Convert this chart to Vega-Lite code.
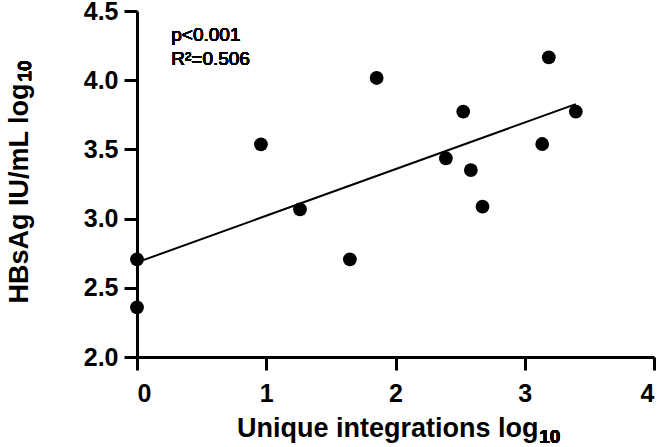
{
  "$schema": "https://vega.github.io/schema/vega-lite/v6.json",
  "autosize": "none",
  "width": 517,
  "height": 346,
  "padding": {"left": 137, "top": 11, "right": 9, "bottom": 90},
  "background": "white",
  "config": {
    "view": {"stroke": null},
    "font": "Liberation Sans",
    "axis": {
      "domainColor": "black",
      "domainWidth": 3,
      "tickColor": "black",
      "tickWidth": 3,
      "tickSize": 13,
      "grid": false,
      "labelFont": "Liberation Sans",
      "labelFontWeight": "bold",
      "labelFontSize": 25,
      "labelColor": "black",
      "titleFont": "Liberation Sans",
      "titleFontWeight": "bold",
      "titleFontSize": 27,
      "titleColor": "black"
    }
  },
  "data": {
    "values": [
      {"integrations": 0, "hbsag": 2.706},
      {"integrations": 0, "hbsag": 2.359},
      {"integrations": 0.959, "hbsag": 3.537},
      {"integrations": 1.261, "hbsag": 3.067},
      {"integrations": 1.647, "hbsag": 2.706},
      {"integrations": 1.854, "hbsag": 4.016},
      {"integrations": 2.524, "hbsag": 3.773},
      {"integrations": 2.390, "hbsag": 3.436},
      {"integrations": 2.583, "hbsag": 3.351},
      {"integrations": 2.673, "hbsag": 3.086},
      {"integrations": 3.135, "hbsag": 3.539},
      {"integrations": 3.186, "hbsag": 4.165},
      {"integrations": 3.395, "hbsag": 3.773}
    ]
  },
  "layer": [
    {
      "transform": [{"regression": "hbsag", "on": "integrations"}],
      "mark": {"type": "line", "color": "black", "strokeWidth": 2, "clip": false},
      "encoding": {
        "x": {"field": "integrations", "type": "quantitative"},
        "y": {"field": "hbsag", "type": "quantitative"}
      }
    },
    {
      "mark": {"type": "circle", "color": "black", "opacity": 1, "size": 190, "clip": false},
      "encoding": {
        "x": {
          "field": "integrations",
          "type": "quantitative",
          "scale": {"domain": [0, 4], "nice": false, "zero": false},
          "axis": {
            "values": [0, 1, 2, 3, 4],
            "format": "d",
            "labelPadding": 11,
            "title": "Unique integrations log",
            "titleX": 401,
            "titleY": 79,
            "titleAlign": "right",
            "titleBaseline": "alphabetic"
          }
        },
        "y": {
          "field": "hbsag",
          "type": "quantitative",
          "scale": {"domain": [2, 4.5], "nice": false, "zero": false},
          "axis": {
            "values": [2, 2.5, 3, 3.5, 4, 4.5],
            "format": ".1f",
            "labelPadding": 6,
            "title": "HBsAg IU/mL log",
            "titleX": -110,
            "titleY": 72,
            "titleAlign": "right",
            "titleBaseline": "alphabetic"
          }
        }
      }
    },
    {
      "mark": {"type": "text", "align": "left", "baseline": "alphabetic", "fontSize": 19, "fontWeight": "bold", "color": "black", "font": "Liberation Sans", "clip": false},
      "encoding": {
        "x": {"datum": 3.112},
        "y": {"datum": 1.378},
        "text": {"value": "10"}
      }
    },
    {
      "mark": {"type": "text", "align": "left", "baseline": "alphabetic", "angle": 270, "fontSize": 19, "fontWeight": "bold", "color": "black", "font": "Liberation Sans", "clip": false},
      "encoding": {
        "x": {"datum": -0.82},
        "y": {"datum": 3.99},
        "text": {"value": "10"}
      }
    },
    {
      "mark": {"type": "text", "align": "left", "baseline": "alphabetic", "fontSize": 19, "fontWeight": "normal", "lineHeight": 24, "color": "black", "font": "Liberation Sans"},
      "encoding": {
        "x": {"datum": 0.265},
        "y": {"datum": 4.283},
        "text": {"value": ["p<0.001", "R²=0.506"]}
      }
    }
  ]
}
